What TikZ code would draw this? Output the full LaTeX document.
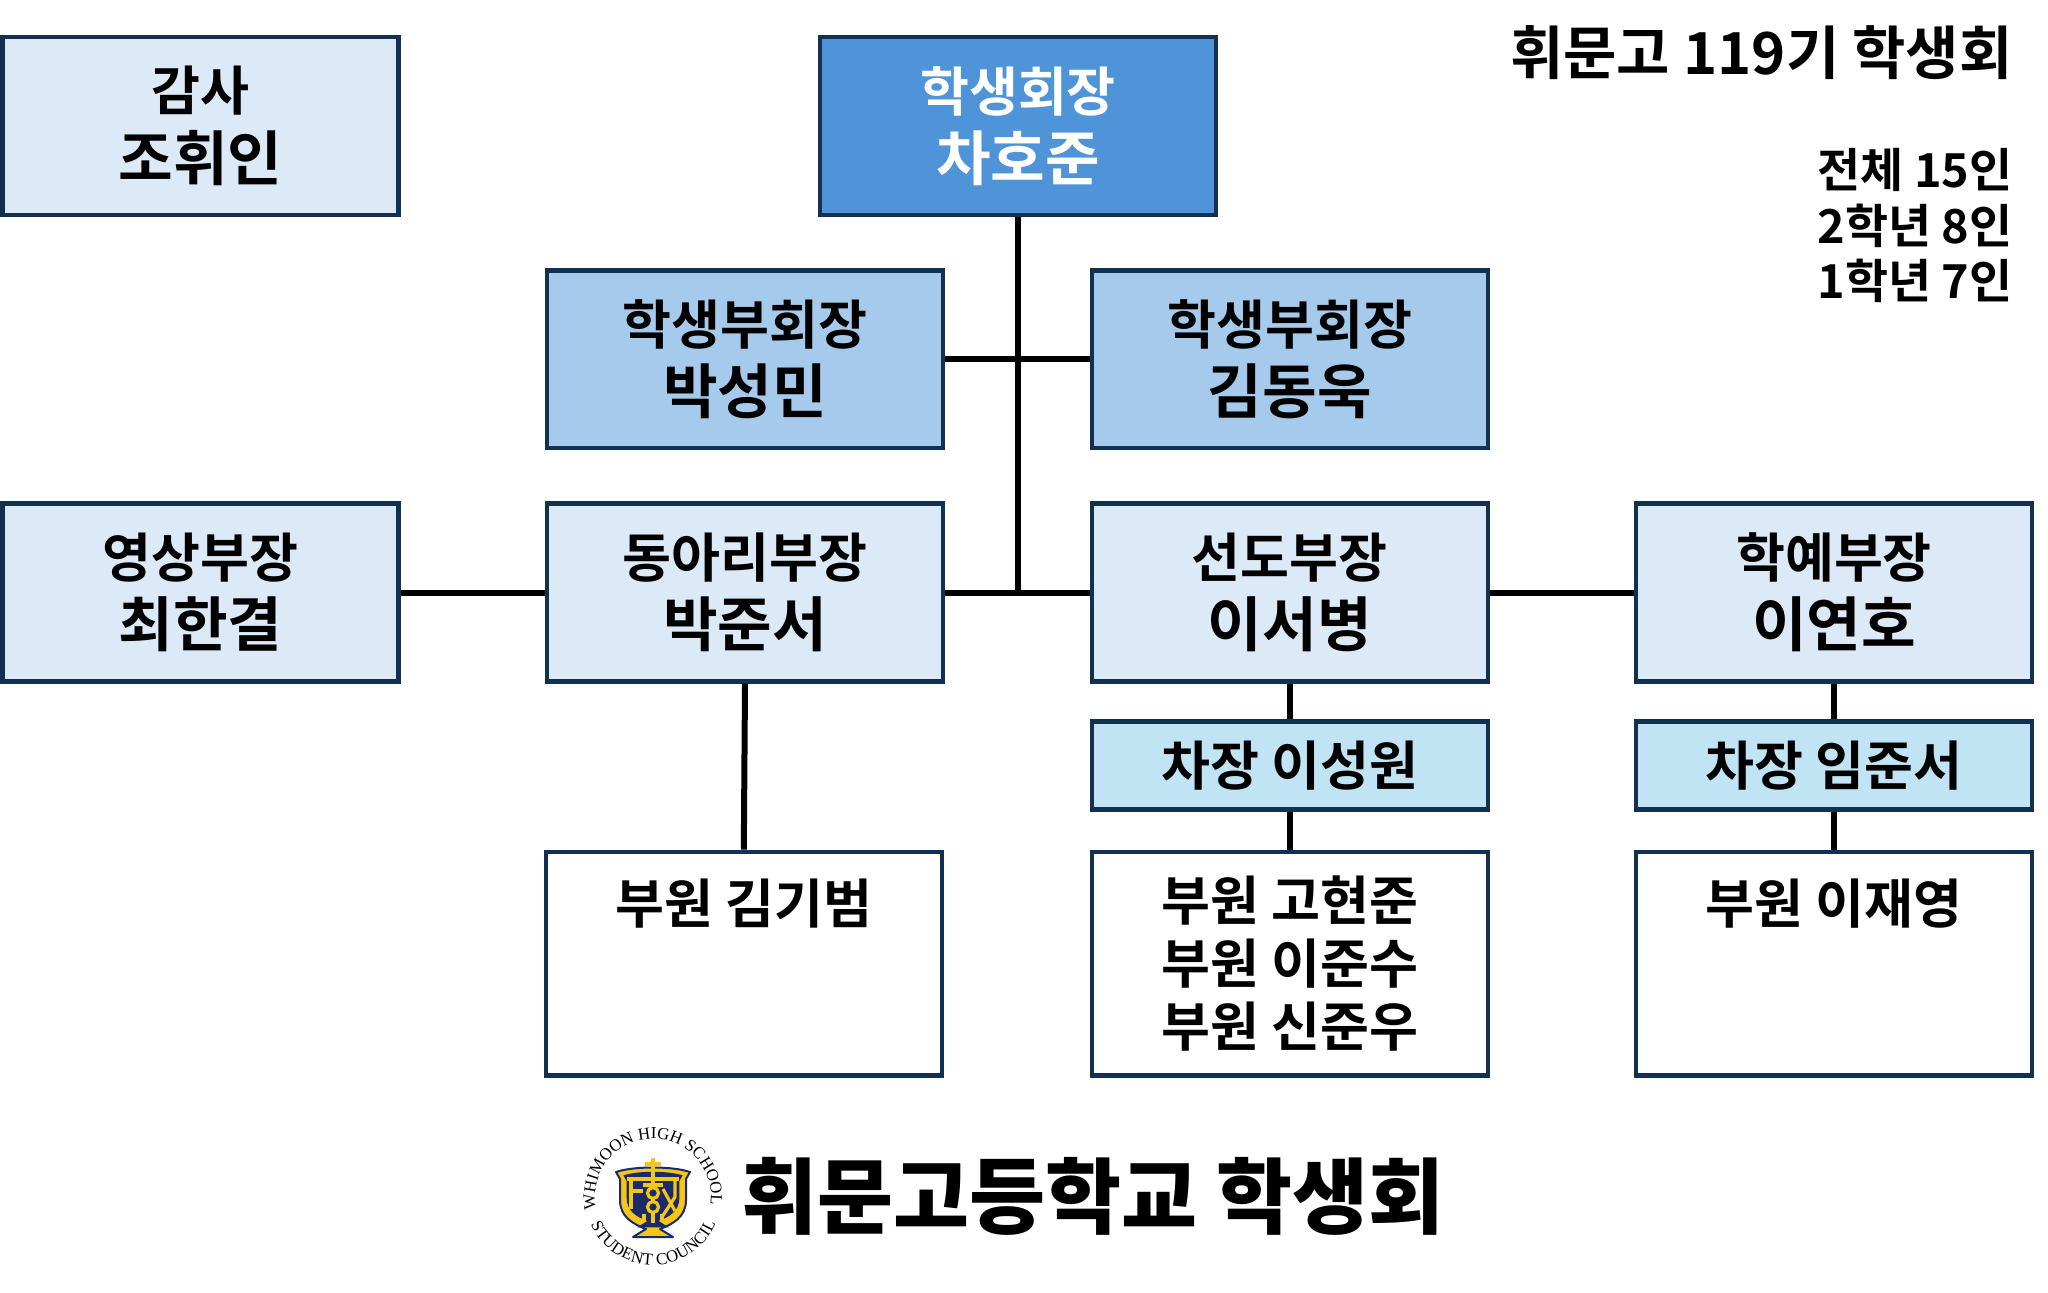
\documentclass[tikz,border=0pt]{standalone}
\usepackage{fontspec}
\usetikzlibrary{decorations.text}
\newfontfamily\krbox{Noto Sans CJK KR}[BoldFont={Noto Sans CJK KR Bold}]
\newfontfamily\krblack{Noto Sans CJK KR Black}
\newfontfamily\logofont{Liberation Serif}
\definecolor{edgenavy}{HTML}{12304F}
\definecolor{fillhead}{HTML}{4F94D9}
\definecolor{fillvice}{HTML}{A6CAEC}
\definecolor{fillpart}{HTML}{DCE9F7}
\definecolor{fillsub}{HTML}{C1E4F5}
\definecolor{shieldnavy}{HTML}{1A2A6C}
\definecolor{shieldgold}{HTML}{F5C518}
\tikzset{
  orgbox/.style={draw=edgenavy, line width=2.2pt, minimum width=198pt, minimum height=88.8pt, inner sep=0pt,
    align=center, font=\fontsize{26.6}{31.4}\selectfont\krbox\bfseries},
  subbox/.style={orgbox, fill=fillsub, minimum height=44pt},
  memberbox/.style={orgbox, fill=white, minimum height=111.8pt},
  infotext/.style={anchor=east, inner sep=0pt, align=right},
  link/.style={line width=3pt, black}
}
\newcommand{\who}[1]{\\[3.3pt]{\fontsize{29.7}{31.4}\selectfont #1}}
\newcommand{\shieldpath}{(-37,25) .. controls (-20,31) and (20,31) .. (37,25) -- (33,18) -- (33,-3) .. controls (33,-20) and (20,-27) .. (7,-32) -- (20,-40) -- (-20,-40) -- (-7,-32) .. controls (-20,-27) and (-33,-20) .. (-33,-3) -- (-33,18) -- cycle}
\begin{document}
\begin{tikzpicture}[x=0.5pt, y=-0.5pt]
  \useasboundingbox (0,0) rectangle (2048,1293);

  % Riga in alto
  \node[orgbox, fill=fillpart] (gamsa) at (200.6,126) {감사\who{조휘인}};
  \node[orgbox, fill=fillhead, text=white] (hoejang) at (1018,126) {학생회장\who{차호준}};

  % Vice
  \node[orgbox, fill=fillvice] (viceL) at (745,359.5) {학생부회장\who{박성민}};
  \node[orgbox, fill=fillvice] (viceR) at (1289.8,359.5) {학생부회장\who{김동욱}};

  % Reparti
  \node[orgbox, fill=fillpart] (video) at (200.6,592.5) {영상부장\who{최한결}};
  \node[orgbox, fill=fillpart] (club) at (745,592.5) {동아리부장\who{박준서}};
  \node[orgbox, fill=fillpart] (guide) at (1289.8,592.5) {선도부장\who{이서병}};
  \node[orgbox, fill=fillpart] (arts) at (1834,592.5) {학예부장\who{이연호}};

  % Vice capi
  \node[subbox] (subguide) at (1289.8,765.5) {차장 이성원};
  \node[subbox] (subarts) at (1834,765.5) {차장 임준서};

  % Membri
  \node[memberbox] (memclub) at (743.8,963.7) {부원 김기범\\~\\~};
  \node[memberbox] (memguide) at (1289.8,963.7) {부원 고현준\\부원 이준수\\부원 신준우};
  \node[memberbox] (memarts) at (1834,963.7) {부원 이재영\\~\\~};

  % Collegamenti
  \coordinate (hub) at (hoejang.south |- club.east);
  \draw[link] (hoejang.south) -- (hub);
  \draw[link] (viceL.east) -- (viceR.west);
  \draw[link] (video.east) -- (club.west);
  \draw[link] (club.east) -- (guide.west);
  \draw[link] (guide.east) -- (arts.west);
  \draw[link] (club.south) -- (memclub.north);
  \draw[link] (guide.south) -- (subguide.north);
  \draw[link] (subguide.south) -- (memguide.north);
  \draw[link] (arts.south) -- (subarts.north);
  \draw[link] (subarts.south) -- (memarts.north);

  % Testi a destra
  \node[infotext, font=\fontsize{29}{34}\selectfont\krbox\bfseries] (title) at (2013,53) {휘문고 119기 학생회};
  \node[infotext, font=\fontsize{23.4}{27.6}\selectfont\krbox\bfseries] (count) at (2013,225.5) {전체 15인\\2학년 8인\\1학년 7인};

  % Titolo in basso
  \node[anchor=west, inner sep=0pt, font=\fontsize{41.3}{48}\selectfont\krblack] (school) at (741,1196.5) {휘문고등학교 학생회};

  % Stemma
  \begin{scope}[shift={(653,1197)}, y=0.5pt]
    \filldraw[fill=shieldgold, draw=shieldnavy, line width=1pt, line join=round] \shieldpath;
    \begin{scope}[scale=0.8, yshift=1pt]
      \fill[shieldnavy] \shieldpath;
    \end{scope}
    \draw[shieldgold, line width=1.6pt] (0,39) -- (0,-26);
    \draw[shieldgold, line width=1.6pt] (-8,33) -- (8,33) (-26,18) -- (26,18);
    \draw[shieldgold, line width=1.6pt] (-22,18) -- (-22,-12) (-22,6) -- (-10,6);
    \draw[shieldgold, line width=1.6pt] (22,18) -- (22,0) -- (9,-20) (10,8) -- (22,-14);
    \filldraw[fill=shieldnavy, draw=shieldgold, line width=1.6pt] (0,4) circle (5.5) (0,-10) circle (5.5);
    \draw[shieldgold, line width=1.6pt] (-10,12) -- (10,12) (-9,-24) -- (-9,-17) (9,-24) -- (9,-17);
    \path[decorate, decoration={text along path, text align=center,
      text={|\logofont\fontsize{8.4}{8.4}\selectfont|WHIMOON HIGH SCHOOL}}] (195:58) arc (195:-11:58);
    \path[decorate, decoration={text along path, text align=fit to path,
      text={|\logofont\fontsize{8.4}{8.4}\selectfont|STUDENT COUNCIL}}] (204:68) arc (204:337:68);
  \end{scope}
\end{tikzpicture}
\end{document}
